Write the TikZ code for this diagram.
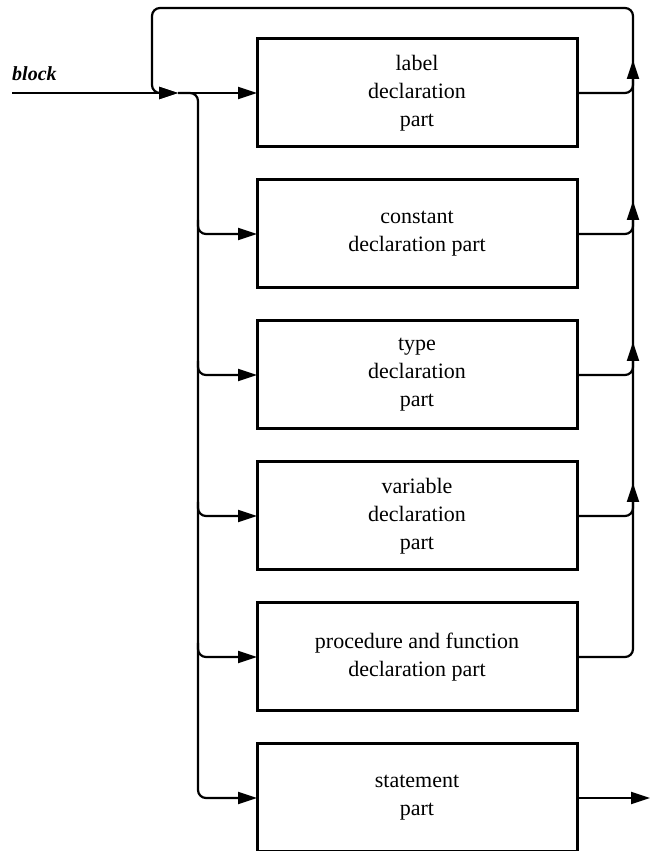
\documentclass[tikz,border=0pt]{standalone}
\usepackage{fontspec}
\setmainfont{Liberation Serif}
\usetikzlibrary{arrows.meta,positioning,calc}
\tikzset{
  teil/.style={draw,line width=3pt,minimum width=320pt,minimum height=108pt,
    align=center,outer sep=0pt,font=\fontsize{22}{28}\selectfont},
  pfeil/.style={line width=2.2pt,-{Triangle[length=19pt,width=12pt]},rounded corners=8pt},
}
\begin{document}
\begin{tikzpicture}[x=1pt,y=1pt]
  \useasboundingbox (0,0) rectangle (651,851);
  % die Kaesten
  \node[teil] (label) at (417,758) {label\\declaration\\part};
  \node[teil,below=33pt of label] (const) {constant\\declaration part};
  \node[teil,below=33pt of const] (type) {type\\declaration\\part};
  \node[teil,below=33pt of type] (var) {variable\\declaration\\part};
  \node[teil,below=33pt of var] (proc) {procedure and function\\declaration part};
  \node[teil,below=33pt of proc] (stmt) {statement\\part};
  % Hilfspunkte
  \coordinate (ein) at (12,758);
  \coordinate (merge) at (178,758);
  \coordinate (split) at (198,758);
  \coordinate (links) at (152,843);
  \coordinate (rechts) at (633,843);
  \coordinate (aus) at ($(stmt.east)+(73,0)$);
  \node[anchor=base west,inner sep=0pt,font=\fontsize{20}{20}\selectfont\bfseries\itshape] (name) at (12,770) {block};
  % Eingang und Verzweigung
  \draw[pfeil] (ein) -- (merge);
  \draw[pfeil] (merge) -- (label.west);
  \draw[pfeil] (merge) -- (split) |- (stmt.west);
  \foreach \k in {const,type,var,proc}
    \draw[pfeil] ($(split |- \k.west)+(0,14)$) |- (\k.west);
  % Rueckfuehrung
  \draw[pfeil] (proc.east) -| (rechts) -- (links) |- (merge);
  \foreach \k in {label,const,type,var}
    \draw[pfeil] (\k.east) -| ($(rechts |- \k.east)+(0,33)$);
  % Ausgang
  \draw[pfeil] (stmt.east) -- (aus);
\end{tikzpicture}
\end{document}
